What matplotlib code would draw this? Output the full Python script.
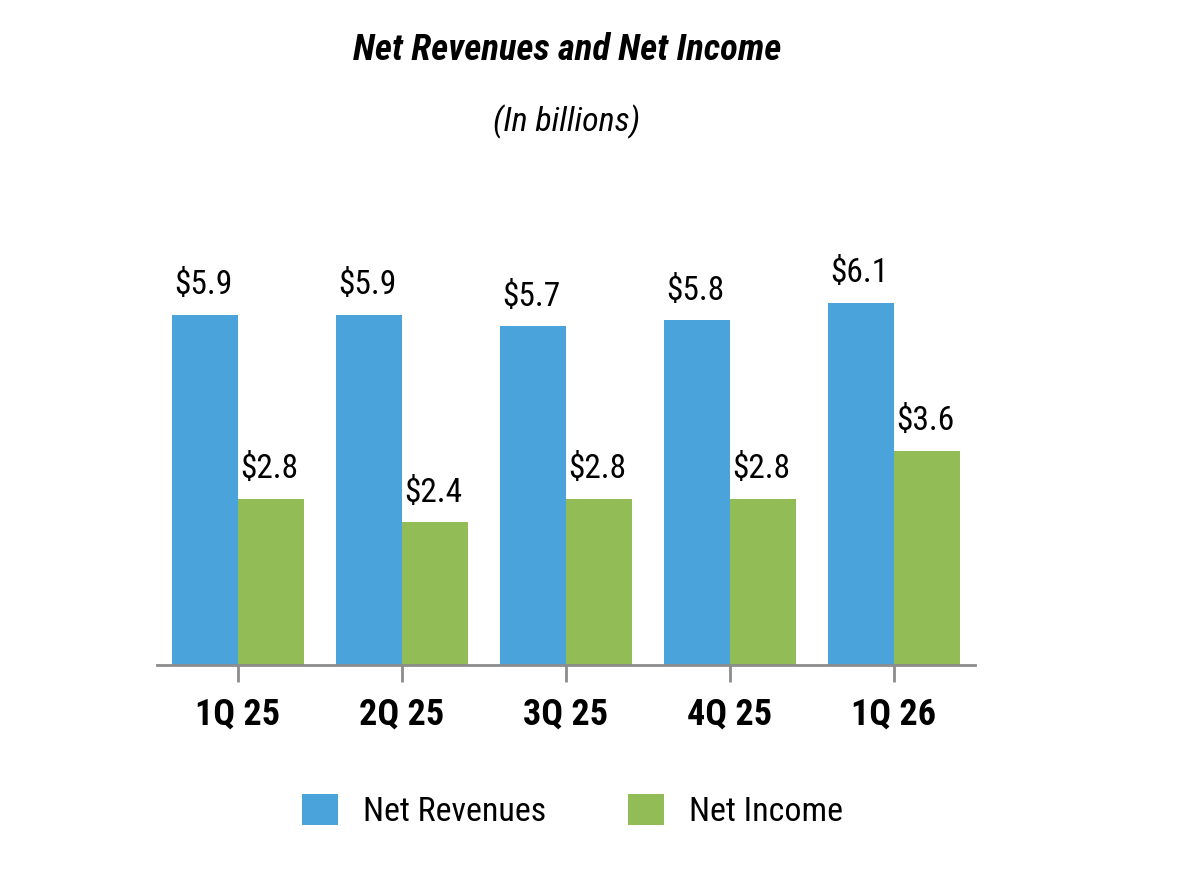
import matplotlib
matplotlib.use('Agg')
import matplotlib.pyplot as plt
import numpy as np

# chart values (in billions)
quarters = ['1Q 25', '2Q 25', '3Q 25', '4Q 25', '1Q 26']
net_revenues = [5.9, 5.9, 5.7, 5.8, 6.1]
net_income = [2.8, 2.4, 2.8, 2.8, 3.6]
series_names = ['Net Revenues', 'Net Income']

BLUE = '#4BA3DC'
GREEN = '#92BC55'
GREY = '#8C8C8C'

plt.rcParams['font.family'] = ['Roboto Condensed', 'DejaVu Sans']
plt.rcParams['font.stretch'] = 'condensed'

W, H = 1179, 888
fig = plt.figure(figsize=(W / 100, H / 100), dpi=100)
ax = fig.add_axes([157 / W, 223 / H, 818 / W, 415.8 / H])

x = np.arange(len(quarters))
width = 0.4
bars_rev = ax.bar(x - width / 2, net_revenues, width, color=BLUE)
bars_inc = ax.bar(x + width / 2, net_income, width, color=GREEN)

for bars in (bars_rev, bars_inc):
    for b in bars:
        ax.annotate('$%.1f' % b.get_height(),
                    (b.get_x() + b.get_width() / 2, b.get_height()),
                    xytext=(-1, 15), textcoords='offset points',
                    ha='center', va='baseline', fontsize=24)

ax.set_xlim(-0.494, 4.494)
ax.set_ylim(0, 7)
ax.set_xticks(x)
ax.set_xticklabels(quarters, fontsize=26, fontweight='bold')
ax.tick_params(axis='x', length=12, width=2, color=GREY, pad=11)
ax.set_yticks([])
for side in ('left', 'right', 'top'):
    ax.spines[side].set_visible(False)
ax.spines['bottom'].set_color(GREY)
ax.spines['bottom'].set_linewidth(2)

fig.text(567 / W, 1 - 60 / H, 'Net Revenues and Net Income',
         ha='center', va='baseline', fontsize=26.5, fontweight='bold',
         fontstyle='italic')
fig.text(567 / W, 1 - 131 / H, '(In billions)',
         ha='center', va='baseline', fontsize=24.5, fontstyle='italic')

leg_x = [302, 628]
for bars, name, lx in zip((bars_rev, bars_inc), series_names, leg_x):
    fig.legend([bars], [name], loc='center left',
               bbox_to_anchor=(lx / W, 1 - 811 / H), frameon=False,
               fontsize=24.5, handlelength=1.05, handleheight=1.05,
               handletextpad=0.75, borderpad=0, borderaxespad=0)

fig.savefig('out.png', dpi=100)
